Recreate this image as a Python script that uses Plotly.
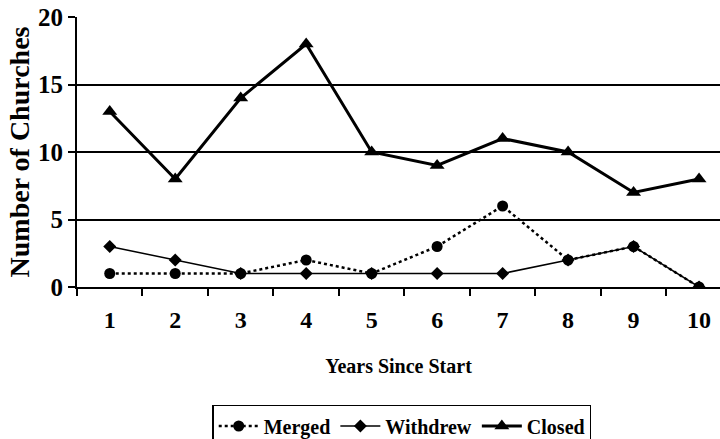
import plotly.graph_objects as go

years = ["1", "2", "3", "4", "5", "6", "7", "8", "9", "10"]
merged = [1, 1, 1, 2, 1, 3, 6, 2, 3, 0]
withdrew = [3, 2, 1, 1, 1, 1, 1, 2, 3, 0]
closed = [13, 8, 14, 18, 10, 9, 11, 10, 7, 8]
y_ticks = [0, 5, 10, 15, 20]

FONT = "Liberation Serif"

fig = go.Figure()
fig.add_trace(go.Scatter(x=years, y=merged, name="Merged", mode="lines+markers",
                         line=dict(color="black", width=2.5, dash="dot"),
                         marker=dict(symbol="circle", size=11, color="black")))
fig.add_trace(go.Scatter(x=years, y=withdrew, name="Withdrew", mode="lines+markers",
                         line=dict(color="black", width=1.5),
                         marker=dict(symbol="diamond", size=10, color="black")))
fig.add_trace(go.Scatter(x=years, y=closed, name="Closed", mode="lines+markers",
                         line=dict(color="black", width=3),
                         marker=dict(symbol="triangle-up", size=13, color="black")))

fig.update_layout(
    width=720, height=439,
    margin=dict(l=77, r=0, t=17, b=152, autoexpand=False),
    paper_bgcolor="white", plot_bgcolor="white",
    font=dict(family=FONT, color="black"),
    showlegend=True,
    legend=dict(orientation="h", x=0.505, xanchor="center", y=-0.437, yanchor="top",
                bordercolor="black", borderwidth=1.5, itemwidth=40,
                font=dict(family=FONT, size=20, color="black", weight="bold"),
                tracegroupgap=0),
)
fig.update_xaxes(
    type="category", range=[-0.5, 9.32], automargin=False,
    showline=True, linecolor="black", linewidth=2,
    ticks="outside", tickson="boundaries", ticklen=7, tickwidth=1.5, tickcolor="black",
    tickfont=dict(family=FONT, size=24, color="black", weight="bold"),
    ticklabelstandoff=10,
    showgrid=False, zeroline=False,
    title=dict(text="Years Since Start", font=dict(family=FONT, size=20, color="black", weight="bold"),
               standoff=27),
)
fig.update_yaxes(
    range=[0, 20], tickvals=y_ticks, automargin=False,
    showline=True, linecolor="black", linewidth=2,
    ticks="outside", ticklen=7, tickwidth=1.5, tickcolor="black",
    tickfont=dict(family=FONT, size=25, color="black", weight="bold"),
    showgrid=True, gridcolor="black", gridwidth=1.5, zeroline=False,
    title=dict(text="Number of Churches", font=dict(family=FONT, size=28, color="black", weight="bold"),
               standoff=0),
)
fig.write_html("out.html", config={"displayModeBar": False},
               post_script="document.body.style.margin='0';document.body.style.overflow='hidden';")
